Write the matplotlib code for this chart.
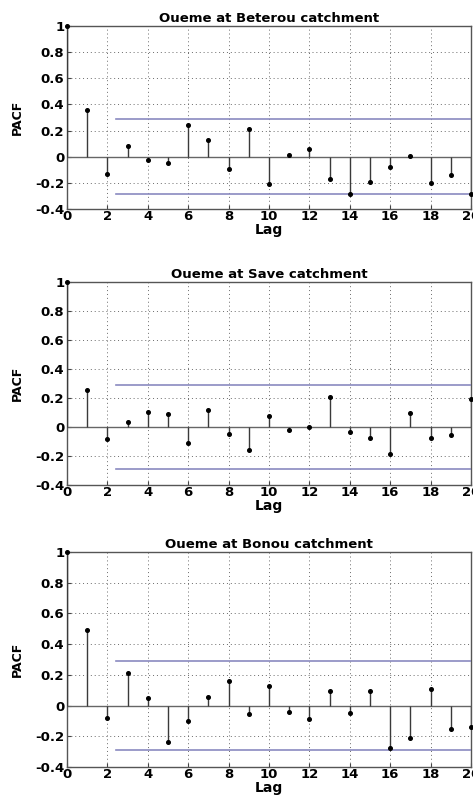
import matplotlib
matplotlib.use("Agg")
import matplotlib.pyplot as plt
import numpy as np

lags = list(range(0, 21))
titles = ["Oueme at Beterou catchment", "Oueme at Save catchment", "Oueme at Bonou catchment"]
pacf_beterou = [1.0, 0.36, -0.133, 0.08, -0.026, -0.049, 0.246, 0.128, -0.097, 0.21, -0.21,
                0.013, 0.059, -0.172, -0.285, -0.192, -0.077, 0.005, -0.203, -0.141, -0.287]
pacf_save = [1.0, 0.253, -0.083, 0.034, 0.101, 0.092, -0.108, 0.117, -0.048, -0.159, 0.078,
             -0.018, 0.0, 0.207, -0.032, -0.076, -0.186, 0.097, -0.078, -0.053, 0.193]
pacf_bonou = [1.0, 0.489, -0.083, 0.215, 0.052, -0.235, -0.098, 0.059, 0.157, -0.054, 0.128,
              -0.041, -0.089, 0.098, -0.05, 0.098, -0.278, -0.211, 0.111, -0.152, -0.141]
conf_bound = 0.287
conf_start = 2.45
xticks = [0, 2, 4, 6, 8, 10, 12, 14, 16, 18, 20]
yticks = [-0.4, -0.2, 0, 0.2, 0.4, 0.6, 0.8, 1]
ytick_labels = ["-0.4", "-0.2", "0", "0.2", "0.4", "0.6", "0.8", "1"]

series = [pacf_beterou, pacf_save, pacf_bonou]
W, H = 473, 795
fig = plt.figure(figsize=(W / 100, H / 100), dpi=100)
# (top, bottom) in pixels
rows = [(26, 209), (282, 485), (552, 767)]
left, right = 67, 471

for (top, bot), title, vals in zip(rows, titles, series):
    ax = fig.add_axes([left / W, 1 - bot / H, (right - left) / W, (bot - top) / H])
    ax.set_xlim(0, 20)
    ax.set_ylim(-0.4, 1)
    ax.grid(True, linestyle=(0, (1, 3)), color="#6a6a6a", linewidth=0.7)
    ax.set_axisbelow(True)
    ax.axhline(0, color="#666666", linewidth=1.0, zorder=2)
    ax.vlines(lags, 0, vals, color="#3a3a3a", linewidth=1.0, zorder=3)
    ax.plot(lags, vals, "o", color="black", markersize=2.6, zorder=4, clip_on=False)
    ax.plot([conf_start, 20], [conf_bound, conf_bound], color="#8a8ac0", linewidth=1.2, zorder=3)
    ax.plot([conf_start, 20], [-conf_bound, -conf_bound], color="#8a8ac0", linewidth=1.2, zorder=3)
    ax.set_xticks(xticks)
    ax.set_yticks(yticks)
    ax.set_yticklabels(ytick_labels)
    ax.tick_params(direction="in", length=3, width=0.8, labelsize=9.5, pad=2, color="#444444")
    ax.tick_params(axis="x", pad=1)
    for lab in ax.get_xticklabels() + ax.get_yticklabels():
        lab.set_fontweight("heavy")
    for s in ax.spines.values():
        s.set_color("#555555")
        s.set_linewidth(1.0)
    ax.set_title(title, fontsize=9.5, fontweight="heavy", pad=3)
    ax.set_xlabel("Lag", fontsize=10, fontweight="heavy", labelpad=0)
    ax.set_ylabel("PACF", fontsize=9, fontweight="heavy", labelpad=8)

fig.savefig("out.png", dpi=100)
